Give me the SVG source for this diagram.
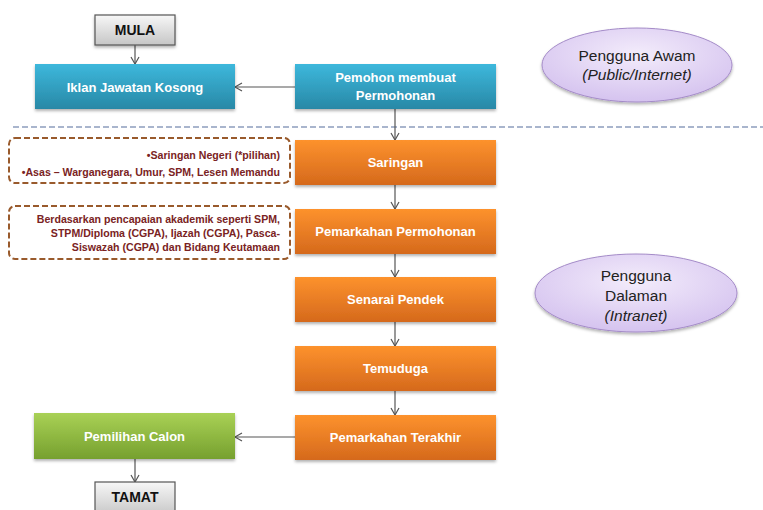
<svg xmlns="http://www.w3.org/2000/svg" width="763" height="510" viewBox="0 0 763 510">
<defs>
<linearGradient id="gBlue" x1="0" y1="0" x2="0" y2="1"><stop offset="0" stop-color="#3db8dc"/><stop offset="1" stop-color="#2888a6"/></linearGradient>
<linearGradient id="gOrange" x1="0" y1="0" x2="0" y2="1"><stop offset="0" stop-color="#fd922d"/><stop offset="1" stop-color="#d5691c"/></linearGradient>
<linearGradient id="gGreen" x1="0" y1="0" x2="0" y2="1"><stop offset="0" stop-color="#a9d156"/><stop offset="1" stop-color="#76a02e"/></linearGradient>
<linearGradient id="gGrey" x1="0" y1="0" x2="0" y2="1"><stop offset="0" stop-color="#f7f7f7"/><stop offset="1" stop-color="#c6c6c6"/></linearGradient>
<radialGradient id="gPurple" cx="0.5" cy="0.35" r="0.65"><stop offset="0" stop-color="#f3ecfb"/><stop offset="1" stop-color="#d5c3ef"/></radialGradient>
<filter id="sh" x="-10%" y="-10%" width="120%" height="130%"><feDropShadow dx="0" dy="2" stdDeviation="1.5" flood-color="#000" flood-opacity="0.3"/></filter>
<marker id="arr" markerWidth="12" markerHeight="12" refX="9" refY="6" orient="auto" markerUnits="userSpaceOnUse"><path d="M2,2 L9,6 L2,10" fill="none" stroke="#555" stroke-width="1.2"/></marker>
</defs>
<style>
.bt{font-family:"Liberation Sans",Arial,sans-serif;font-weight:bold;font-size:13px;fill:#fff;text-anchor:middle}
.kt{font-family:"Liberation Sans",Arial,sans-serif;font-weight:bold;font-size:14px;fill:#111;text-anchor:middle}
.et{font-family:"Liberation Sans",Arial,sans-serif;font-size:15.5px;fill:#222;text-anchor:middle}
.ct{font-family:"Liberation Sans",Arial,sans-serif;font-weight:bold;font-size:10.6px;fill:#7a2323;text-anchor:end}
.co{fill:none;stroke:#555;stroke-width:1.2}
.cb{fill:#fff;stroke:#995a2c;stroke-width:2;stroke-dasharray:6 3}
</style>
<rect width="763" height="510" fill="#fff"/>
<line x1="13" y1="127" x2="763" y2="127" stroke="#8d9dbd" stroke-width="1.5" stroke-dasharray="6 3"/>
<g id="connectors">
<line class="co" x1="135" y1="45" x2="135" y2="64" marker-end="url(#arr)"/>
<line class="co" x1="295" y1="87" x2="235" y2="87" marker-end="url(#arr)"/>
<line class="co" x1="395" y1="109" x2="395" y2="140" marker-end="url(#arr)"/>
<line class="co" x1="395" y1="185" x2="395" y2="209" marker-end="url(#arr)"/>
<line class="co" x1="395" y1="254" x2="395" y2="277" marker-end="url(#arr)"/>
<line class="co" x1="395" y1="322" x2="395" y2="346" marker-end="url(#arr)"/>
<line class="co" x1="395" y1="391" x2="395" y2="415" marker-end="url(#arr)"/>
<line class="co" x1="295" y1="437" x2="235" y2="437" marker-end="url(#arr)"/>
<line class="co" x1="135" y1="459" x2="135" y2="482" marker-end="url(#arr)"/>
</g>
<g id="mula"><rect x="95" y="15" width="80" height="30" fill="url(#gGrey)" stroke="#555" stroke-width="1.2" filter="url(#sh)"/><text class="kt" x="135" y="35">MULA</text></g>
<g id="iklan"><rect x="35" y="64" width="200" height="45" fill="url(#gBlue)" filter="url(#sh)"/><text class="bt" x="135" y="92">Iklan Jawatan Kosong</text></g>
<g id="pemohon"><rect x="295" y="64" width="201" height="45" fill="url(#gBlue)" filter="url(#sh)"/><text class="bt" x="395.5" y="82">Pemohon membuat</text><text class="bt" x="395.5" y="100">Permohonan</text></g>
<g id="saringan"><rect x="295" y="140" width="201" height="45" fill="url(#gOrange)" filter="url(#sh)"/><text class="bt" x="395.5" y="167">Saringan</text></g>
<g id="pemarkahan-permohonan"><rect x="295" y="209" width="201" height="45" fill="url(#gOrange)" filter="url(#sh)"/><text class="bt" x="395.5" y="236">Pemarkahan Permohonan</text></g>
<g id="senarai"><rect x="295" y="277" width="201" height="45" fill="url(#gOrange)" filter="url(#sh)"/><text class="bt" x="395.5" y="304">Senarai Pendek</text></g>
<g id="temuduga"><rect x="295" y="346" width="201" height="45" fill="url(#gOrange)" filter="url(#sh)"/><text class="bt" x="395.5" y="373">Temuduga</text></g>
<g id="pemarkahan-terakhir"><rect x="295" y="415" width="201" height="45" fill="url(#gOrange)" filter="url(#sh)"/><text class="bt" x="395.5" y="442">Pemarkahan Terakhir</text></g>
<g id="pemilihan"><rect x="34" y="413" width="201" height="46" fill="url(#gGreen)" filter="url(#sh)"/><text class="bt" x="134.5" y="441">Pemilihan Calon</text></g>
<g id="tamat"><rect x="95" y="482" width="80" height="34" fill="url(#gGrey)" stroke="#555" stroke-width="1.2"/><text class="kt" x="135" y="502">TAMAT</text></g>
<g id="callout-saringan"><rect class="cb" x="9" y="138" width="281" height="45" rx="6"/><text class="ct" x="280" y="159">•Saringan Negeri (*pilihan)</text><text class="ct" x="280" y="176">•Asas – Warganegara, Umur, SPM, Lesen Memandu</text></g>
<g id="callout-pemarkahan"><rect class="cb" x="9" y="206" width="281" height="53" rx="6"/><text class="ct" x="280" y="223">Berdasarkan pencapaian akademik seperti SPM,</text><text class="ct" x="280" y="237">STPM/Diploma (CGPA), Ijazah (CGPA), Pasca-</text><text class="ct" x="280" y="251">Siswazah (CGPA) dan Bidang Keutamaan</text></g>
<g id="awam"><ellipse cx="637" cy="65" rx="95" ry="37" fill="url(#gPurple)" stroke="#a48bc8" stroke-width="1" filter="url(#sh)"/><text class="et" x="637" y="61">Pengguna Awam</text><text class="et" x="637" y="80" font-style="italic">(Public/Internet)</text></g>
<g id="dalaman"><ellipse cx="636" cy="293" rx="101" ry="39" fill="url(#gPurple)" stroke="#a48bc8" stroke-width="1" filter="url(#sh)"/><text class="et" x="636" y="281">Pengguna</text><text class="et" x="636" y="301">Dalaman</text><text class="et" x="636" y="321" font-style="italic">(Intranet)</text></g>
</svg>
